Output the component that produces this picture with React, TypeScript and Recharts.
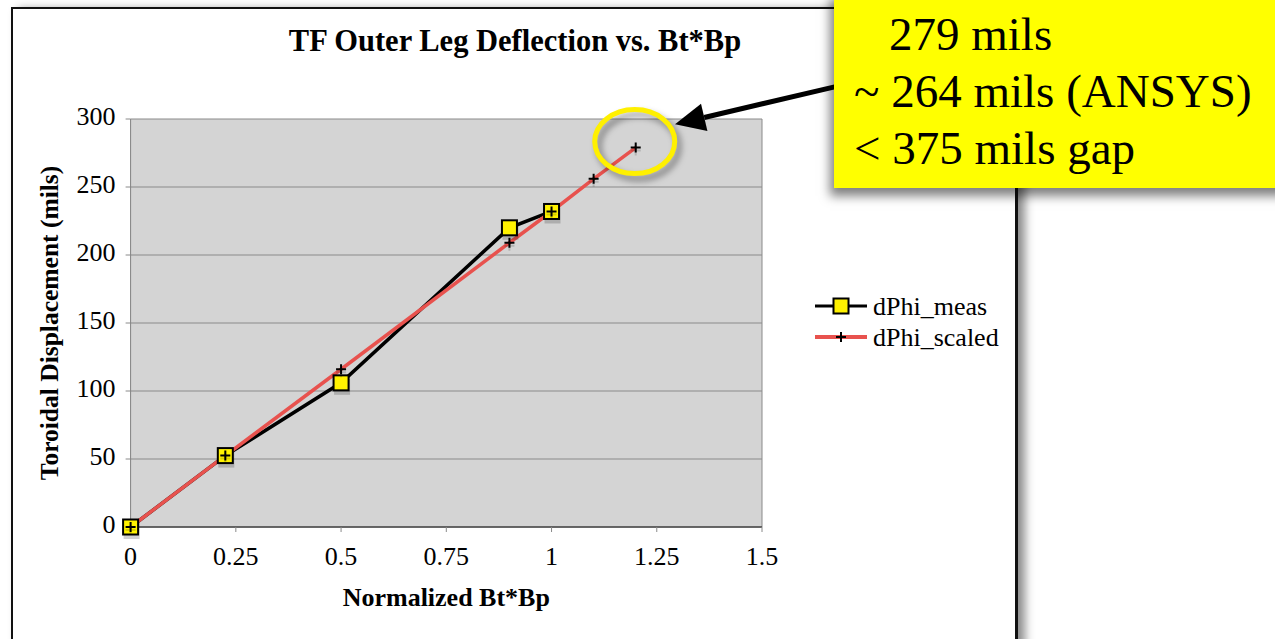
import React from 'react';
import {
  LineChart,
  Line,
  XAxis,
  YAxis,
  CartesianGrid,
  Legend,
  Label,
  ReferenceLine,
  ReferenceDot,
} from 'recharts';

// ---- data ----
const measX = [0, 0.225, 0.5, 0.9, 1.0];
const measY = [0, 52.5, 106, 220, 232];
const scaledX = [0, 0.225, 0.5, 0.9, 1.0, 1.1, 1.2];
const scaledY = [0, 52.5, 116, 209, 232, 256, 279];
const xTicks = [0, 0.25, 0.5, 0.75, 1, 1.25, 1.5];
const yTicks = [0, 50, 100, 150, 200, 250, 300];
const seriesNames = ['dPhi_meas', 'dPhi_scaled'];
const titleText = 'TF Outer Leg Deflection vs. Bt*Bp';
const xTitle = 'Normalized Bt*Bp';
const yTitle = 'Toroidal Displacement (mils)';
const calloutLines = ['279 mils', '~ 264 mils (ANSYS)', '< 375 mils gap'];
const highlightPoint = { x: 1.2, y: 279 };

const measData = measX.map((x, i) => ({ x, y: measY[i] }));
const scaledData = scaledX.map((x, i) => ({ x, y: scaledY[i] }));

const FONT = '"Liberation Serif", "Times New Roman", serif';
const RED = '#e8524e';
const SQ_YELLOW = '#fff200';

const SquareDot = (props: any) => {
  const { cx, cy, index } = props;
  if (cx == null || cy == null) return <g key={`sq-${index}`} />;
  return (
    <g key={`sq-${index}`}>
      <rect x={cx - 7} y={cy - 4} width={16} height={16} fill="#000" opacity={0.18} />
      <rect x={cx - 7.5} y={cy - 7.5} width={15} height={15} fill={SQ_YELLOW} stroke="#000" strokeWidth={2} />
    </g>
  );
};

const PlusDot = (props: any) => {
  const { cx, cy, index } = props;
  if (cx == null || cy == null) return <g key={`pl-${index}`} />;
  return (
    <g key={`pl-${index}`}>
      <path
        d={`M${cx - 5},${cy + 3}H${cx + 5}M${cx},${cy - 2}V${cy + 8}`}
        stroke="#000"
        strokeWidth={2}
        opacity={0.15}
      />
      <path d={`M${cx - 5},${cy}H${cx + 5}M${cx},${cy - 5}V${cy + 5}`} stroke="#000" strokeWidth={2} />
    </g>
  );
};

const Highlight = (props: any) => {
  const { cx, cy } = props;
  if (cx == null || cy == null) return <g />;
  const ex = cx - 1;
  const ey = cy - 6;
  const tail = { x: cx + 200, y: cy - 61 };
  const tip = { x: cx + 39.3, y: cy - 23.2 };
  const dx = tip.x - tail.x;
  const dy = tip.y - tail.y;
  const len = Math.sqrt(dx * dx + dy * dy);
  const ux = dx / len;
  const uy = dy / len;
  const bx = tip.x - ux * 30;
  const by = tip.y - uy * 30;
  const px = -uy;
  const py = ux;
  return (
    <g>
      <defs>
        <filter id="hlblur" x="-50%" y="-50%" width="200%" height="200%">
          <feGaussianBlur stdDeviation="3" />
        </filter>
      </defs>
      <ellipse cx={ex + 4} cy={ey + 5} rx={40} ry={32} fill="none" stroke="#000" strokeOpacity={0.35} strokeWidth={6} filter="url(#hlblur)" />
      <ellipse cx={ex} cy={ey} rx={40} ry={32} fill="none" stroke="#fff000" strokeWidth={5} />
      <line x1={tail.x} y1={tail.y} x2={bx} y2={by} stroke="#000" strokeWidth={5} />
      <polygon
        points={`${tip.x},${tip.y} ${bx + px * 14},${by + py * 14} ${bx - px * 14},${by - py * 14}`}
        fill="#000"
      />
    </g>
  );
};

const renderLegend = () => (
  <div style={{ fontFamily: FONT, fontSize: 26, color: '#000', lineHeight: '31px' }}>
    <div style={{ display: 'flex', alignItems: 'center', height: 31 }}>
      <svg width={52} height={20} style={{ display: 'block' }}>
        <line x1={0} y1={10} x2={52} y2={10} stroke="#000" strokeWidth={3} />
        <rect x={18.5} y={2.5} width={15} height={15} fill={SQ_YELLOW} stroke="#000" strokeWidth={2} />
      </svg>
      <span style={{ marginLeft: 6 }}>{seriesNames[0]}</span>
    </div>
    <div style={{ display: 'flex', alignItems: 'center', height: 31 }}>
      <svg width={52} height={20} style={{ display: 'block' }}>
        <line x1={0} y1={10} x2={52} y2={10} stroke={RED} strokeWidth={4} />
        <path d="M21,10H31M26,5V15" stroke="#000" strokeWidth={2} />
      </svg>
      <span style={{ marginLeft: 6 }}>{seriesNames[1]}</span>
    </div>
  </div>
);

const YTitle = (p: any) => {
  const vb = p.viewBox || { x: 0, y: 0, width: 0, height: 0 };
  const x = vb.x + 58;
  const y = vb.y + vb.height / 2;
  return (
    <text
      x={x}
      y={y}
      transform={`rotate(-90 ${x} ${y})`}
      textAnchor="middle"
      fontFamily={FONT}
      fontWeight="bold"
      fontSize={25.5}
      fill="#000"
    >
      {yTitle}
    </text>
  );
};

const XTitle = (p: any) => {
  const vb = p.viewBox || { x: 0, y: 0, width: 0, height: 0 };
  return (
    <text
      x={vb.x + vb.width / 2}
      y={vb.y + 79}
      textAnchor="middle"
      fontFamily={FONT}
      fontWeight="bold"
      fontSize={26}
      fill="#000"
    >
      {xTitle}
    </text>
  );
};

export default function App() {
  return (
    <div
      style={{
        position: 'fixed',
        left: 0,
        top: 0,
        width: 1275,
        height: 639,
        overflow: 'hidden',
        background: '#fff',
      }}
    >
      {/* chart frame */}
      <div
        style={{
          position: 'absolute',
          left: 11,
          top: 7,
          width: 1007,
          height: 720,
          boxSizing: 'border-box',
          borderLeft: '2.5px solid #111',
          borderTop: '2.5px solid #111',
          borderRight: '3px solid #111',
          background: '#fff',
          boxShadow: '7px 2px 9px rgba(0,0,0,0.45)',
        }}
      />
      {/* title */}
      <div
        style={{
          position: 'absolute',
          left: 0,
          top: 25.7,
          width: 1030,
          textAlign: 'center',
          fontFamily: FONT,
          fontWeight: 'bold',
          fontSize: 30.5,
          lineHeight: '31px',
          color: '#000',
          whiteSpace: 'nowrap',
        }}
      >
        {titleText}
      </div>
      <div style={{ position: 'absolute', left: 0, top: 0 }}>
        <LineChart
          width={1275}
          height={639}
          margin={{ top: 119, right: 513, bottom: 0, left: 0 }}
        >
          <CartesianGrid horizontal vertical={false} fill="#d4d4d4" stroke="#8a8a8a" />
          <XAxis
            type="number"
            dataKey="x"
            domain={[0, 1.5]}
            ticks={xTicks}
            height={112}
            tickSize={5}
            tickMargin={14.5}
            axisLine={{ stroke: '#4a4a4a', strokeWidth: 1.5 }}
            tickLine={{ stroke: '#8a8a8a' }}
            tick={{ fill: '#000', fontFamily: FONT, fontSize: 26 }}
            interval={0}
          >
            <Label content={XTitle} />
          </XAxis>
          <YAxis
            type="number"
            domain={[0, 300]}
            ticks={yTicks}
            width={130.6}
            tickSize={5}
            tickMargin={10}
            axisLine={{ stroke: '#808080' }}
            tickLine={{ stroke: '#8a8a8a' }}
            tick={{ fill: '#000', fontFamily: FONT, fontSize: 26, dy: -3 }}
            interval={0}
          >
            <Label content={YTitle} />
          </YAxis>
          <ReferenceLine x={1.5} stroke="#8a8a8a" ifOverflow="visible" />
          <Line
            data={measData}
            dataKey="y"
            name={seriesNames[0]}
            type="linear"
            stroke="#000"
            strokeWidth={3.5}
            dot={false}
            activeDot={false}
            isAnimationActive={false}
            legendType="none"
          />
          <Line
            data={scaledData}
            dataKey="y"
            name={seriesNames[1]}
            type="linear"
            stroke={RED}
            strokeWidth={3.5}
            dot={false}
            activeDot={false}
            isAnimationActive={false}
            legendType="none"
          />
          <Line
            data={measData}
            dataKey="y"
            name={seriesNames[0] + ' markers'}
            type="linear"
            stroke="none"
            dot={SquareDot}
            activeDot={false}
            isAnimationActive={false}
            legendType="none"
          />
          <Line
            data={scaledData}
            dataKey="y"
            name={seriesNames[1] + ' markers'}
            type="linear"
            stroke="none"
            dot={PlusDot}
            activeDot={false}
            isAnimationActive={false}
            legendType="none"
          />
          <ReferenceDot
            x={highlightPoint.x}
            y={highlightPoint.y}
            ifOverflow="visible"
            shape={Highlight}
          />
          <Legend
            layout="vertical"
            align="center"
            verticalAlign="middle"
            content={renderLegend}
            wrapperStyle={{ position: 'absolute', left: 815, top: 290.5, width: 200, height: 62 }}
          />
        </LineChart>
      </div>
      {/* callout box */}
      <div
        style={{
          position: 'absolute',
          left: 834,
          top: -10,
          width: 470,
          height: 198,
          background: '#ffff00',
          boxShadow: '-4px 8px 10px rgba(0,0,0,0.5)',
          boxSizing: 'border-box',
          paddingTop: 15.6,
          paddingLeft: 20,
          fontFamily: FONT,
          fontSize: 47,
          lineHeight: '57px',
          color: '#000',
          whiteSpace: 'nowrap',
          zIndex: 5,
        }}
      >
        <div style={{ paddingLeft: 35 }}>{calloutLines[0]}</div>
        <div>{calloutLines[1]}</div>
        <div>{calloutLines[2]}</div>
      </div>
    </div>
  );
}
